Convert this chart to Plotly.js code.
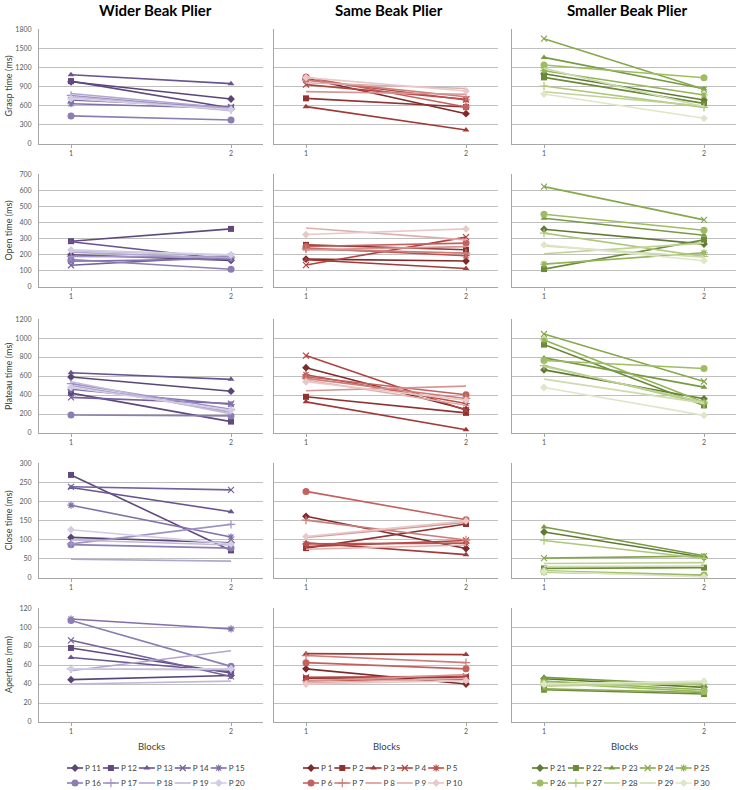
<!DOCTYPE html>
<html><head><meta charset="utf-8">
<script src="https://cdn.plot.ly/plotly-3.0.1.min.js"></script>
<style>html,body{margin:0;padding:0;background:#fff}#chart{width:739px;height:790px}</style>
</head><body><div id="chart"></div>
<script>
// ---------------- DATA ----------------
const blocks = [1, 2];
const blockLabels = ["1", "2"];
const groupTitles = ["Wider Beak Plier", "Same Beak Plier", "Smaller Beak Plier"];
const measureTitles = ["Grasp time (ms)", "Open time (ms)", "Plateau time (ms)", "Close time (ms)", "Aperture (mm)"];
const xAxisTitle = "Blocks";

const participantsWider = ["P 11", "P 12", "P 13", "P 14", "P 15", "P 16", "P 17", "P 18", "P 19", "P 20"];
const participantsSame = ["P 1", "P 2", "P 3", "P 4", "P 5", "P 6", "P 7", "P 8", "P 9", "P 10"];
const participantsSmaller = ["P 21", "P 22", "P 23", "P 24", "P 25", "P 26", "P 27", "P 28", "P 29", "P 30"];

// Grasp time (ms)
const graspWiderB1 = [975, 985, 1085, 690, 630, 440, 760, 790, 740, 710];
const graspWiderB2 = [705, 565, 945, 580, 560, 375, 540, 560, 520, 540];
const graspSameB1 = [1030, 715, 585, 930, 1010, 1050, 1000, 820, 960, 1040];
const graspSameB2 = [475, 580, 220, 700, 690, 580, 740, 780, 870, 830];
const graspSmallerB1 = [1100, 1043, 1356, 1649, 1148, 1236, 908, 819, 1184, 782];
const graspSmallerB2 = [689, 636, 866, 856, 767, 1038, 574, 595, 584, 402];

// Open time (ms)
const openWiderB1 = [200, 284, 280, 135, 160, 170, 190, 215, 225, 230];
const openWiderB2 = [165, 360, 170, 190, 175, 110, 185, 180, 195, 200];
const openSameB1 = [173, 261, 169, 136, 241, 251, 235, 230, 366, 325];
const openSameB2 = [161, 231, 115, 309, 194, 272, 210, 250, 292, 360];
const openSmallerB1 = [358, 111, 426, 622, 142, 451, 334, 206, 255, 261];
const openSmallerB2 = [266, 292, 321, 416, 212, 352, 189, 272, 185, 163];

// Plateau time (ms)
const plateauWiderB1 = [590, 420, 635, 375, 460, 190, 520, 500, 540, 480];
const plateauWiderB2 = [440, 120, 565, 310, 300, 180, 250, 220, 200, 240];
const plateauSameB1 = [688, 381, 328, 815, 614, 593, 575, 445, 558, 540];
const plateauSameB2 = [247, 212, 35, 240, 310, 402, 364, 494, 293, 346];
const plateauSmallerB1 = [665, 931, 791, 1043, 980, 763, 710, 700, 567, 479];
const plateauSmallerB2 = [360, 290, 483, 542, 325, 679, 308, 325, 315, 186];

// Close time (ms)
const closeWiderB1 = [106, 269, 236, 238, 190, 87, 89, 49, 99, 126];
const closeWiderB2 = [92, 72, 173, 230, 107, 78, 140, 44, 86, 89];
const closeSameB1 = [161, 78, 92, 82, 89, 226, 151, 106, 75, 108];
const closeSameB2 = [77, 141, 61, 98, 91, 152, 99, 145, 86, 149];
const closeSmallerB1 = [120, 25, 133, 52, 15, 19, 98, 38, 30, 17];
const closeSmallerB2 = [54, 27, 58, 57, 7, 8, 51, 40, 31, 3];

// Aperture (mm)
const apertureWiderB1 = [44.6, 78, 68, 86, 108.5, 107, 56, 54, 40, 56];
const apertureWiderB2 = [49, 51.6, 53, 48, 98, 58.6, 55, 75, 43, 56];
const apertureSameB1 = [56, 46, 72, 47, 43.6, 62.5, 70, 43, 41, 40];
const apertureSameB2 = [40, 47, 71, 48, 45, 56, 62.5, 50, 46, 43.6];
const apertureSmallerB1 = [45.6, 34, 47, 35, 43, 41, 39, 37.6, 40, 40];
const apertureSmallerB2 = [36.5, 29.5, 39, 31, 34, 32, 40, 41, 42, 43];

// ---------------- STYLE ----------------
const colorsWider = ["#5b4577", "#61497f", "#6a5490", "#74609c", "#8170aa", "#8c7db4", "#a093c3", "#b1a6cd", "#c2b9d8", "#d3cde4"];
const colorsSame = ["#7d2b2a", "#8f3230", "#a13a37", "#b0433f", "#bd504c", "#c4615e", "#cc7c79", "#d59693", "#deafad", "#e8c9c7"];
const colorsSmaller = ["#5f7a33", "#6b8a3a", "#789a43", "#86a94c", "#92b556", "#9ebd63", "#aec77b", "#bed295", "#cddcae", "#dde7c8"];
const symbols = ["diamond", "square", "triangle-up", "x-thin-open", "asterisk-open", "circle", "cross-thin-open", null, null, "diamond"];
const symSizes = [6, 6, 6, 6, 6, 7, 6, 0, 0, 6];

const W = 739, H = 790;
const colPx = [[39, 263], [274, 498], [512, 736]];
const rowPx = [[29, 144], [174, 287], [319, 433], [463, 578], [608, 722]];
const yMax = [1800, 700, 1200, 300, 120];
const yStep = [300, 100, 200, 50, 20];
const FONT = "Lato, 'Open Sans', 'DejaVu Sans', sans-serif";

const groups = [
  {names: participantsWider, colors: colorsWider,
   data: [[graspWiderB1, graspWiderB2], [openWiderB1, openWiderB2], [plateauWiderB1, plateauWiderB2], [closeWiderB1, closeWiderB2], [apertureWiderB1, apertureWiderB2]]},
  {names: participantsSame, colors: colorsSame,
   data: [[graspSameB1, graspSameB2], [openSameB1, openSameB2], [plateauSameB1, plateauSameB2], [closeSameB1, closeSameB2], [apertureSameB1, apertureSameB2]]},
  {names: participantsSmaller, colors: colorsSmaller,
   data: [[graspSmallerB1, graspSmallerB2], [openSmallerB1, openSmallerB2], [plateauSmallerB1, plateauSmallerB2], [closeSmallerB1, closeSmallerB2], [apertureSmallerB1, apertureSmallerB2]]}
];

const fx = p => p / W;
const fy = p => 1 - p / H;

const traces = [];
const layout = {
  width: W, height: H,
  margin: {l: 0, r: 0, t: 0, b: 0, autoexpand: false},
  paper_bgcolor: "#ffffff", plot_bgcolor: "#ffffff",
  font: {family: FONT, color: "#404040"},
  hovermode: false,
  showlegend: true,
  legend: {orientation: "h", x: 0, y: 1, xanchor: "left", yanchor: "top",
           bgcolor: "rgba(0,0,0,0)", borderwidth: 0, traceorder: "normal",
           font: {size: 8, color: "#404040", family: FONT}},
  annotations: []
};

for (let r = 0; r < 5; r++) {
  for (let c = 0; c < 3; c++) {
    const k = r * 3 + c + 1;
    const xa = "xaxis" + (k === 1 ? "" : k), ya = "yaxis" + (k === 1 ? "" : k);
    const xr = "x" + (k === 1 ? "" : k), yr = "y" + (k === 1 ? "" : k);
    layout[xa] = {
      domain: [fx(colPx[c][0]), fx(colPx[c][1])], anchor: yr,
      range: [0.8, 2.2], tickvals: blocks, ticktext: blockLabels,
      showgrid: false, zeroline: false, showline: true, linecolor: "#a6a6a6", linewidth: 1,
      ticks: "outside", ticklen: 3, tickcolor: "#a6a6a6",
      tickfont: {size: 7, color: "#595959", family: FONT}, fixedrange: true
    };
    layout[ya] = {
      domain: [fy(rowPx[r][1]), fy(rowPx[r][0])], anchor: xr,
      range: [0, yMax[r] * 1.0005], dtick: yStep[r], tick0: 0,
      showgrid: true, gridcolor: "#bfbfbf", gridwidth: 1,
      zeroline: false, showline: true, linecolor: "#a6a6a6", linewidth: 1,
      showticklabels: c === 0, ticks: "", ticklabelstandoff: 5,
      tickfont: {size: 7, color: "#595959", family: FONT}, fixedrange: true
    };
    const g = groups[c];
    for (let i = 0; i < 10; i++) {
      const hasMarker = symbols[i] !== null;
      const tr = {
        type: "scatter", x: blocks, y: [g.data[r][0][i], g.data[r][1][i]],
        xaxis: xr, yaxis: yr, name: g.names[i],
        mode: hasMarker ? "lines+markers" : "lines",
        line: {color: g.colors[i], width: 1.6},
        showlegend: r === 0
      };
      if (hasMarker) {
        tr.marker = {symbol: symbols[i], size: symSizes[i], color: g.colors[i],
                     line: {color: g.colors[i], width: symbols[i].indexOf("open") >= 0 ? 1.2 : 0}};
      }
      traces.push(tr);
    }
  }
  layout.annotations.push({
    text: measureTitles[r], xref: "paper", yref: "paper",
    x: fx(8), y: fy((rowPx[r][0] + rowPx[r][1]) / 2), xanchor: "center", yanchor: "middle",
    textangle: -90, showarrow: false, font: {size: 9, color: "#404040", family: FONT}
  });
}

const titleX = [155, 389, 627];
const blocksX = [151, 386, 624];
for (let c = 0; c < 3; c++) {
  layout.annotations.push({
    text: "<b>" + groupTitles[c] + "</b>", xref: "paper", yref: "paper",
    x: fx(titleX[c]), y: fy(10), xanchor: "center", yanchor: "middle",
    showarrow: false, font: {size: 15, color: "#000000", family: FONT}
  });
  layout.annotations.push({
    text: xAxisTitle, xref: "paper", yref: "paper",
    x: fx(blocksX[c]), y: fy(746), xanchor: "center", yanchor: "middle",
    showarrow: false, font: {size: 9.5, color: "#404040", family: FONT}
  });
}

// legend block start (left x, first-row centre y) for each column
const legendStarts = [[67, 768], [303, 768], [532, 768]];
const LEG_LINE = 16, LEG_TEXT = 18, LEG_GAP = 2, LEG_ROW = 15;

function compactLegend(gd) {
  const lg = gd.querySelector(".infolayer > g.legend") || gd.querySelector("g.legend");
  if (!lg) return;
  lg.setAttribute("transform", "translate(0,0)");
  lg.querySelectorAll(".scrollbox").forEach(sb => { sb.removeAttribute("clip-path"); sb.style.clipPath = "none"; sb.setAttribute("transform", "translate(0,0)"); });
  lg.querySelectorAll(".scrollbar").forEach(b => b.style.display = "none");
  lg.querySelectorAll("rect.bg").forEach(b => b.style.display = "none");
  const items = lg.querySelectorAll("g.traces");
  let x = 0;
  items.forEach((it, i) => {
    const grp = Math.floor(i / 10), j = i % 10;
    const row = Math.floor(j / 5);
    if (j % 5 === 0) x = legendStarts[grp][0];
    const y = legendStarts[grp][1] + row * LEG_ROW;
    it.setAttribute("transform", "translate(" + x + "," + y + ")");
    it.querySelectorAll(".legendlines path").forEach(p => p.setAttribute("d", "M0,0h" + LEG_LINE));
    it.querySelectorAll("path.scatterpts").forEach(p => p.setAttribute("transform", "translate(" + (LEG_LINE / 2) + ",0)"));
    const t = it.querySelector("text.legendtext");
    let tw = 14;
    if (t) {
      t.setAttribute("x", LEG_TEXT);
      t.querySelectorAll("tspan").forEach(s => { if (s.hasAttribute("x")) s.setAttribute("x", LEG_TEXT); });
      try { tw = t.getComputedTextLength(); } catch (e) {}
    }
    x += LEG_TEXT + tw + LEG_GAP;
  });
}

const gd = document.getElementById("chart");
Plotly.newPlot(gd, traces, layout, {staticPlot: true, displayModeBar: false}).then(() => {
  compactLegend(gd);
  setTimeout(() => compactLegend(gd), 50);
  setTimeout(() => compactLegend(gd), 400);
});
</script>
</body></html>
